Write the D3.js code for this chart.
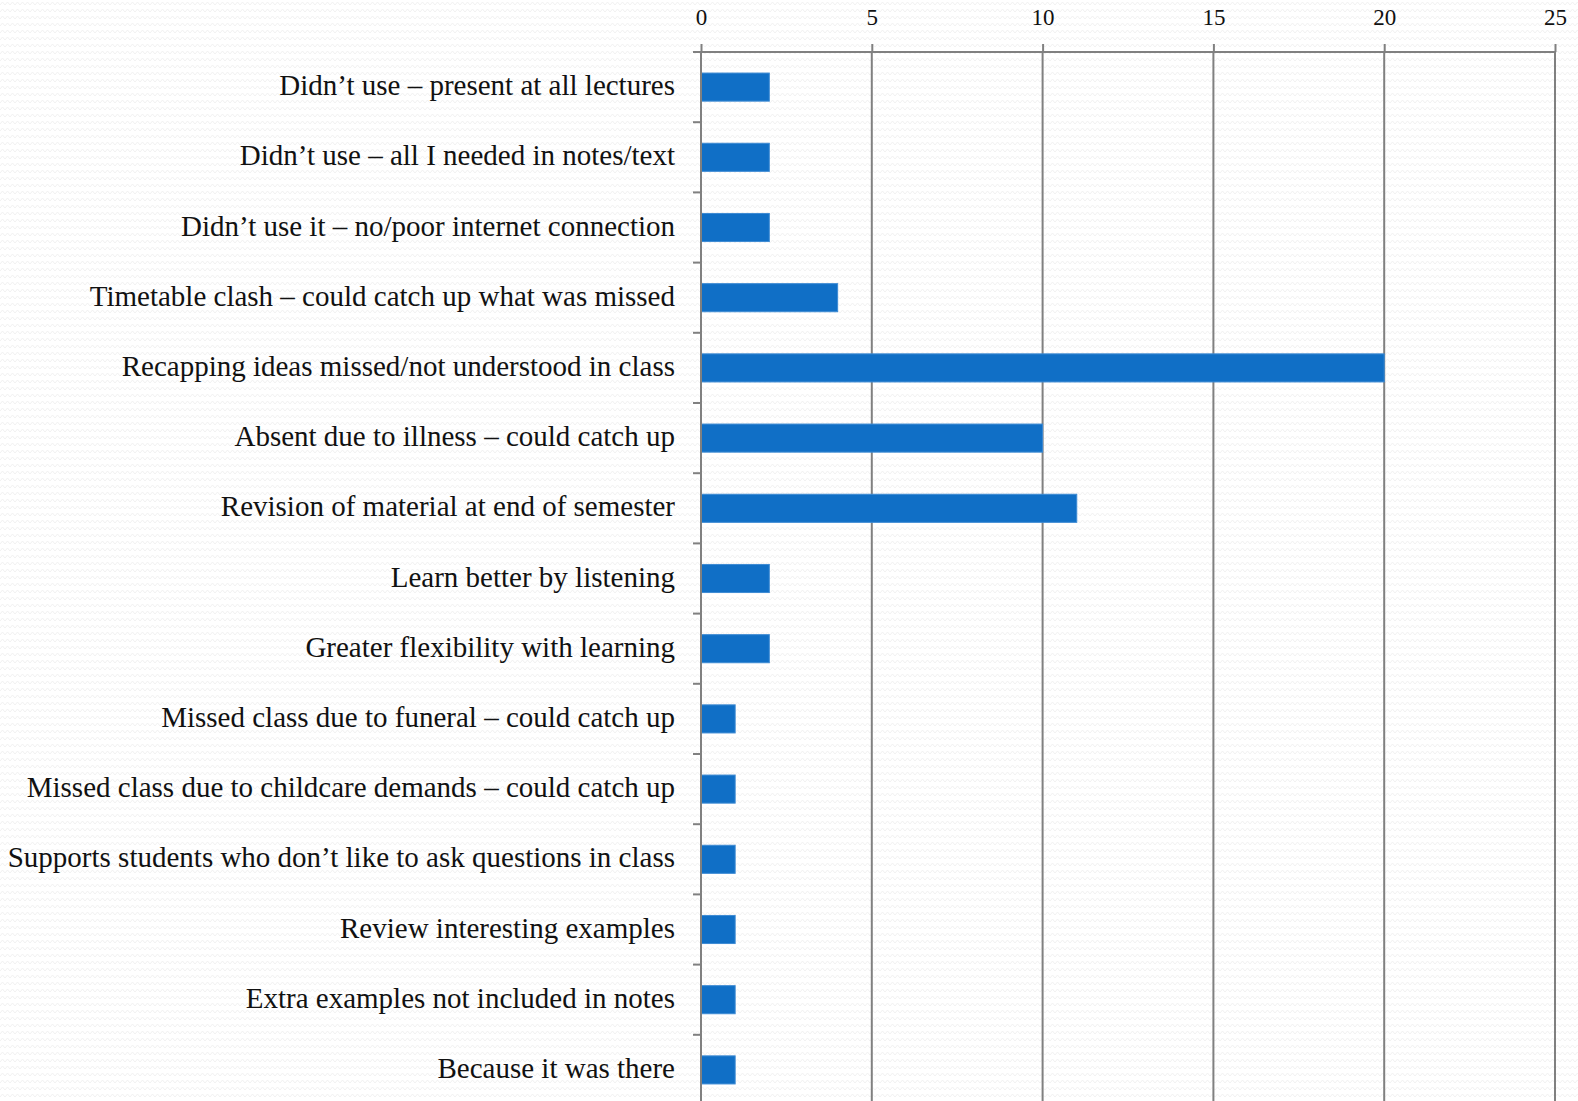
<!DOCTYPE html>
<html lang="en">
<head>
<meta charset="utf-8">
<title>Lecture recording use</title>
<script src="https://cdn.jsdelivr.net/npm/d3@7"></script>
<style>
  body { margin: 0; background: #fff; }
  .lbl { font-family: "Liberation Serif", serif; font-size: 29px; fill: #111; }
  .tick-lbl { font-family: "Liberation Serif", serif; font-size: 23px; fill: #111; }
</style>
</head>
<body>
<div id="chart"></div>
<script>
// reasons, top to bottom
var reasons = [
  "Didn\u2019t use \u2013 present at all lectures",
  "Didn\u2019t use \u2013 all I needed in notes/text",
  "Didn\u2019t use it \u2013 no/poor internet connection",
  "Timetable clash \u2013 could catch up what was missed",
  "Recapping ideas missed/not understood in class",
  "Absent due to illness \u2013 could catch up",
  "Revision of material at end of semester",
  "Learn better by listening",
  "Greater flexibility with learning",
  "Missed class due to funeral \u2013 could catch up",
  "Missed class due to childcare demands \u2013 could catch up",
  "Supports students who don\u2019t like to ask questions in class",
  "Review interesting examples",
  "Extra examples not included in notes",
  "Because it was there"
];
var counts = [2, 2, 2, 4, 20, 10, 11, 2, 2, 1, 1, 1, 1, 1, 1];
var xTicks = [0, 5, 10, 15, 20, 25];

var W = 1578, H = 1101;
var plotLeft = 701, plotRight = 1555, plotTop = 52;
var band = 70.2;

var svg = d3.select("#chart").append("svg")
  .attr("width", W).attr("height", H);

// faint zigzag paper background
var defs = svg.append("defs");
var pat = defs.append("pattern")
  .attr("id", "zig").attr("patternUnits", "userSpaceOnUse")
  .attr("width", 10).attr("height", 7);
pat.append("path")
  .attr("d", "M0,5 L2.5,2 L5,5 L7.5,2 L10,5")
  .attr("fill", "none").attr("stroke", "#f1f1f1").attr("stroke-width", 1);
svg.append("rect").attr("width", W).attr("height", H).attr("fill", "#fff");
svg.append("rect").attr("width", W).attr("height", H).attr("fill", "url(#zig)");

var x = d3.scaleLinear().domain([0, 25]).range([plotLeft, plotRight]);
var y = d3.scaleBand().domain(reasons)
  .range([plotTop, plotTop + band * reasons.length]).paddingInner(0.6).paddingOuter(0.3);

// vertical gridlines
svg.append("g").selectAll("line")
  .data(xTicks.slice(1)).enter().append("line")
  .attr("x1", function(d) { return x(d); }).attr("x2", function(d) { return x(d); })
  .attr("y1", plotTop).attr("y2", H)
  .attr("stroke", "#808080").attr("stroke-width", 2);

// bars
svg.append("g").selectAll("rect")
  .data(counts).enter().append("rect")
  .attr("x", x(0))
  .attr("y", function(d, i) { return y(reasons[i]); })
  .attr("width", function(d) { return x(d) - x(0); })
  .attr("height", y.bandwidth())
  .attr("fill", "#106fc6")
  .attr("stroke", "#3d8ad3").attr("stroke-width", 1);

// top axis
var xAxis = svg.append("g")
  .attr("transform", "translate(0," + plotTop + ")")
  .call(d3.axisTop(x).tickValues(xTicks).tickSize(8).tickPadding(19));
xAxis.select(".domain").attr("d", "M" + (plotLeft - 8) + ",0H" + plotRight)
  .attr("stroke", "#808080").attr("stroke-width", 2);
xAxis.selectAll(".tick line").attr("stroke", "#808080").attr("stroke-width", 2);
xAxis.selectAll(".tick text").attr("class", "tick-lbl");
xAxis.attr("font-family", null).attr("font-size", null);

// left axis with category boundary ticks
svg.append("line")
  .attr("x1", plotLeft).attr("x2", plotLeft).attr("y1", plotTop).attr("y2", H)
  .attr("stroke", "#808080").attr("stroke-width", 2);
svg.append("g").selectAll("line")
  .data(d3.range(reasons.length + 1)).enter().append("line")
  .attr("x1", plotLeft - 8).attr("x2", plotLeft)
  .attr("y1", function(i) { return plotTop + i * band; })
  .attr("y2", function(i) { return plotTop + i * band; })
  .attr("stroke", "#808080").attr("stroke-width", 2);

// category labels
svg.append("g").selectAll("text")
  .data(reasons).enter().append("text")
  .attr("class", "lbl")
  .attr("x", plotLeft - 26)
  .attr("y", function(d) { return y(d) + y.bandwidth() / 2 + 8; })
  .attr("text-anchor", "end")
  .text(function(d) { return d; });
</script>
</body>
</html>
